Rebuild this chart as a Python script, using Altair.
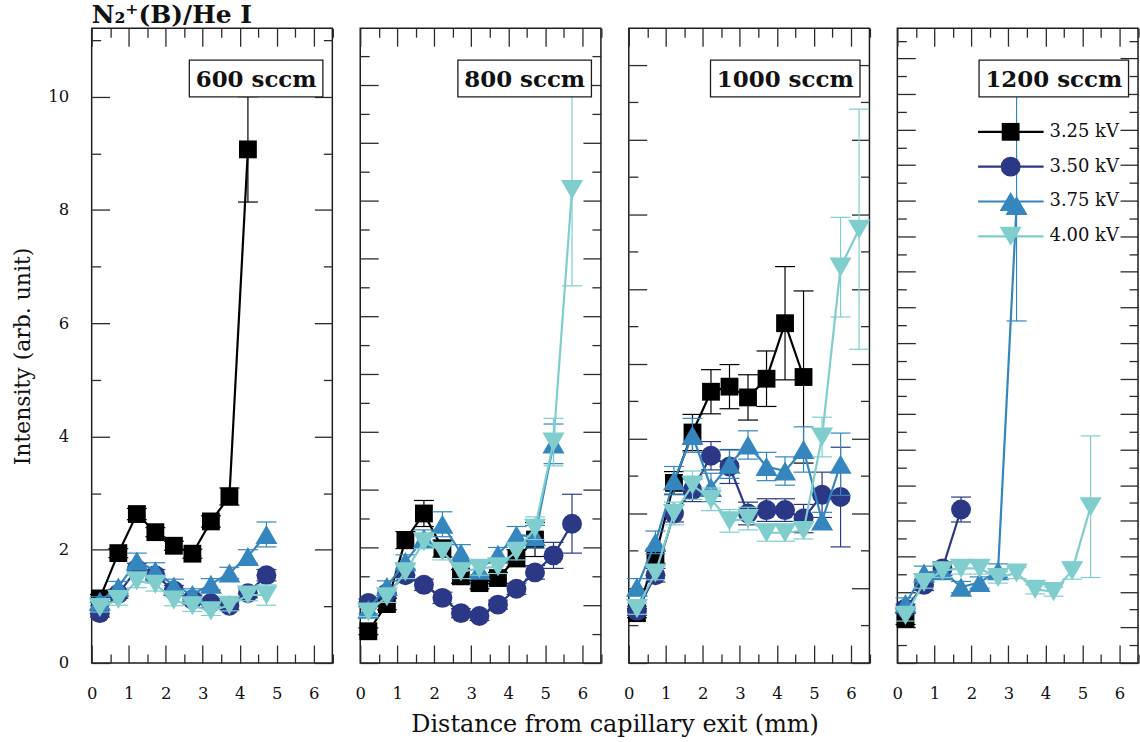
import altair as alt
import pandas as pd

# ---------------- data ----------------
X_MM = [0.22, 0.72, 1.22, 1.72, 2.22, 2.72, 3.22, 3.72, 4.22, 4.72, 5.22, 5.72, 6.22]
SERIES = ["3.25 kV", "3.50 kV", "3.75 kV", "4.00 kV"]
FLOWS = ["600 sccm", "800 sccm", "1000 sccm", "1200 sccm"]

# 600 sccm
f600_v325 = [1.14, 1.94, 2.63, 2.31, 2.07, 1.93, 2.50, 2.94, 9.07]
f600_e325 = [0.07, 0.08, 0.10, 0.08, 0.08, 0.08, 0.10, 0.15, 0.93]
f600_v350 = [0.88, 1.22, 1.66, 1.55, 1.28, 1.12, 1.06, 1.01, 1.23, 1.55]
f600_e350 = [0.07, 0.08, 0.10, 0.10, 0.09, 0.08, 0.07, 0.07, 0.08, 0.10]
f600_v375 = [1.09, 1.34, 1.80, 1.63, 1.36, 1.21, 1.39, 1.59, 1.88, 2.27]
f600_e375 = [0.08, 0.10, 0.14, 0.14, 0.12, 0.10, 0.10, 0.10, 0.12, 0.22]
f600_v400 = [0.98, 1.12, 1.45, 1.39, 1.11, 1.01, 0.92, 1.02, 1.20, 1.20]
f600_e400 = [0.08, 0.10, 0.12, 0.12, 0.10, 0.10, 0.08, 0.10, 0.10, 0.18]

# 800 sccm
f800_v325 = [0.56, 1.04, 2.17, 2.64, 2.02, 1.53, 1.41, 1.50, 1.85, 2.18]
f800_e325 = [0.06, 0.10, 0.15, 0.23, 0.15, 0.12, 0.10, 0.10, 0.15, 0.30]
f800_v350 = [1.06, 1.23, 1.55, 1.38, 1.15, 0.88, 0.83, 1.03, 1.31, 1.60, 1.90, 2.46]
f800_e350 = [0.07, 0.08, 0.10, 0.10, 0.10, 0.08, 0.08, 0.08, 0.10, 0.12, 0.23, 0.52]
f800_v375 = [0.95, 1.35, 1.79, 2.20, 2.45, 1.94, 1.64, 1.92, 2.26, 2.23, 3.87]
f800_e375 = [0.08, 0.10, 0.12, 0.15, 0.22, 0.15, 0.12, 0.12, 0.15, 0.20, 0.35]
f800_v400 = [0.90, 1.17, 1.61, 2.14, 1.97, 1.61, 1.67, 1.70, 1.97, 2.38, 3.90, 8.36]
f800_e400 = [0.08, 0.10, 0.12, 0.12, 0.15, 0.12, 0.12, 0.12, 0.15, 0.20, 0.42, 1.70]

# 1000 sccm
f1000_v325 = [0.88, 1.88, 3.18, 4.07, 4.79, 4.88, 4.69, 5.02, 6.00, 5.05]
f1000_e325 = [0.08, 0.12, 0.20, 0.32, 0.39, 0.39, 0.40, 0.49, 1.00, 1.52]
f1000_v350 = [0.92, 1.55, 2.64, 3.05, 3.66, 3.47, 2.64, 2.70, 2.70, 2.55, 2.97, 2.93]
f1000_e350 = [0.08, 0.12, 0.15, 0.20, 0.25, 0.30, 0.20, 0.20, 0.20, 0.25, 0.40, 0.88]
f1000_v375 = [1.34, 2.13, 3.22, 4.02, 3.10, 3.51, 3.85, 3.47, 3.39, 3.77, 2.51, 3.51]
f1000_e375 = [0.15, 0.20, 0.25, 0.30, 0.25, 0.25, 0.25, 0.25, 0.25, 0.40, 0.15, 0.55]
f1000_v400 = [0.96, 1.59, 2.64, 3.14, 2.89, 2.51, 2.55, 2.30, 2.30, 2.34, 3.99, 6.99, 7.66]
f1000_e400 = [0.10, 0.12, 0.20, 0.25, 0.20, 0.20, 0.20, 0.15, 0.15, 0.15, 0.35, 0.88, 2.12]

# 1200 sccm
f1200_v325 = [0.78]
f1200_e325 = [0.10]
f1200_v350 = [0.96, 1.38, 1.67, 2.71]
f1200_e350 = [0.08, 0.10, 0.12, 0.22]
f1200_v375 = [1.05, 1.59, 1.63, 1.34, 1.42, 1.63, 8.08]
f1200_e375 = [0.10, 0.12, 0.12, 0.10, 0.10, 0.12, 2.04]
f1200_v400 = [0.84, 1.42, 1.63, 1.67, 1.67, 1.51, 1.59, 1.30, 1.26, 1.63, 2.76]
f1200_e400 = [0.10, 0.10, 0.12, 0.10, 0.10, 0.10, 0.10, 0.08, 0.08, 0.15, 1.25]

PANEL_DATA = [
    [(f600_v325, f600_e325), (f600_v350, f600_e350), (f600_v375, f600_e375), (f600_v400, f600_e400)],
    [(f800_v325, f800_e325), (f800_v350, f800_e350), (f800_v375, f800_e375), (f800_v400, f800_e400)],
    [(f1000_v325, f1000_e325), (f1000_v350, f1000_e350), (f1000_v375, f1000_e375), (f1000_v400, f1000_e400)],
    [(f1200_v325, f1200_e325), (f1200_v350, f1200_e350), (f1200_v375, f1200_e375), (f1200_v400, f1200_e400)],
]

# ---------------- style ----------------
FONT = "DejaVu Serif"
COLORS = ["#000000", "#2a3886", "#3586be", "#7fcdcd"]
SHAPES = ["square", "circle", "triangle-up", "triangle-down"]
SIZES = [320, 400, 490, 490]
W = 241.5
H = 637
XMAX = 6.5
YMAX = 11.21
TICK_COLOR = "#2b2b2b"
LONG = 18
SHORT = 9
BOX_W = [134, 134, 150, 150]

# tick positions per panel (long / short)
X_LONG = [0, 1, 2, 3, 4, 5, 6]
X_SHORT = [0.5, 1.5, 2.5, 3.5, 4.5, 5.5, 6.5]
Y_TICKS = [
    ([0, 2, 4, 6, 8, 10], [1, 3, 5, 7, 9, 11]),
    ([round(1.02 * k, 3) for k in range(11)], [round(1.02 * k + 0.51, 3) for k in range(11)]),
    ([round(1.32 * k, 3) for k in range(9)], [round(1.32 * k + 0.66, 3) for k in range(8)]),
    ([round(0.628 * k, 3) for k in range(18)], [round(0.628 * k + 0.314, 3) for k in range(18)]),
]

xs = alt.Scale(domain=[0, XMAX], nice=False, zero=False)
ys = alt.Scale(domain=[0, YMAX], nice=False, zero=False)


def make_axis(orient, values, size, labels=False, **kw):
    return alt.Axis(
        orient=orient, values=values, tickSize=size, offset=-size, domain=False,
        grid=False, labels=labels, tickColor=TICK_COLOR, tickWidth=1.3,
        labelFont=FONT, labelFontSize=16.5, labelColor="#111", labelFlush=False,
        labelOverlap=False, **kw)


def build_panel(idx):
    rows = []
    for s, (vals, errs) in enumerate(PANEL_DATA[idx]):
        for i, (v, e) in enumerate(zip(vals, errs)):
            rows.append({"series": SERIES[s], "x": X_MM[i], "y": v, "lo": v - e, "hi": v + e})
    df = pd.DataFrame(rows)
    base = alt.Chart(df)

    def ex(f="x"):
        return alt.X(f, type="quantitative", scale=xs, axis=None)

    def ey(f="y"):
        return alt.Y(f, type="quantitative", scale=ys, axis=None)

    layers = []
    for s, name in enumerate(SERIES):
        d = base.transform_filter(alt.datum.series == name)
        col = COLORS[s]
        layers.append(d.mark_rule(color=col, strokeWidth=1.2).encode(x=ex(), y=ey("lo"), y2="hi"))
        for f in ("lo", "hi"):
            layers.append(d.mark_rule(color=col, strokeWidth=1.2, xOffset=-10, x2Offset=10)
                          .encode(x=ex(), x2="x", y=ey(f)))
        layers.append(d.mark_line(color=col, strokeWidth=2.2).encode(x=ex(), y=ey()))
        layers.append(d.mark_point(shape=SHAPES[s], filled=True, size=SIZES[s], color=col,
                                   opacity=1, strokeWidth=0).encode(x=ex(), y=ey()))

    ylong, yshort = Y_TICKS[idx]
    if idx == 0:
        yl = make_axis("left", ylong, LONG, labels=True, format="d", labelPadding=23,
                       title="Intensity (arb. unit)", titleFont=FONT, titleFontSize=22,
                       titleFontWeight="normal", titleColor="#111", titleX=-87, titleY=329,
                       titleAngle=270, titleAlign="center", titleBaseline="middle")
    else:
        yl = make_axis("left", ylong, LONG, title=None)
    if idx == 1:
        xl = make_axis("bottom", X_LONG, LONG, labels=True, labelPadding=23,
                       title="Distance from capillary exit (mm)", titleFont=FONT,
                       titleFontSize=24, titleFontWeight="normal", titleColor="#111",
                       titleX=W + 13.75, titleY=80, titleAlign="center",
                       titleBaseline="middle", titleAngle=0)
    else:
        xl = make_axis("bottom", X_LONG, LONG, labels=True, labelPadding=23, title=None)
    carriers = [
        (xl, yl),
        (make_axis("bottom", X_SHORT, SHORT, title=None), make_axis("left", yshort, SHORT, title=None)),
        (make_axis("top", X_LONG, LONG, title=None), make_axis("right", ylong, LONG, title=None)),
        (make_axis("top", X_SHORT, SHORT, title=None), make_axis("right", yshort, SHORT, title=None)),
    ]
    for xa, ya in carriers:
        layers.append(base.mark_point(opacity=0).encode(
            x=alt.X("x", type="quantitative", scale=xs, axis=xa),
            y=alt.Y("y", type="quantitative", scale=ys, axis=ya)))

    # flow-rate label box
    lab = alt.Chart(pd.DataFrame({"flow": [FLOWS[idx]]}))
    bw = BOX_W[idx]
    layers.append(lab.mark_rect(fill="white", stroke="#1e1e1e", strokeWidth=1.3).encode(
        x=alt.value(W - 9.5 - bw), x2=alt.value(W - 9.5), y=alt.value(32), y2=alt.value(69)))
    layers.append(lab.mark_text(font=FONT, fontSize=23, fontWeight="bold", color="#111",
                                align="center", baseline="middle").encode(
        x=alt.value(W - 9.5 - bw / 2), y=alt.value(51.5), text="flow:N"))

    # legend (last panel)
    if idx == 3:
        leg = pd.DataFrame({"series": SERIES, "row": list(range(len(SERIES)))})
        lg = alt.Chart(leg).transform_calculate(
            ly="9.38 - 0.615 * datum.row", lx1="2.18", lx2="3.95", mx="3.06", tx="4.11")
        for s, name in enumerate(SERIES):
            d = lg.transform_filter(alt.datum.series == name)
            col = COLORS[s]
            layers.append(d.mark_rule(color=col, strokeWidth=2.2).encode(
                x=ex("lx1"), x2="lx2", y=ey("ly")))
            layers.append(d.mark_point(shape=SHAPES[s], filled=True, size=SIZES[s], color=col,
                                       opacity=1, strokeWidth=0).encode(x=ex("mx"), y=ey("ly")))
            layers.append(d.mark_text(font=FONT, fontSize=18, color="#111", align="left",
                                      baseline="middle").encode(x=ex("tx"), y=ey("ly"), text="series:N"))

    ch = alt.layer(*layers).resolve_axis(x="independent", y="independent").properties(width=W, height=H)
    if idx == 0:
        ch = ch.properties(title=alt.TitleParams(
            "N₂⁺(B)/He I", anchor="start", frame="group", font=FONT, fontSize=25,
            fontWeight="bold", color="#111", offset=0))
    return ch


panels = [build_panel(i) for i in range(4)]

chart = alt.hconcat(*panels, spacing=27.5, bounds="flush").properties(
    padding={"left": 11, "top": 0, "right": 0, "bottom": 4}
).configure_view(stroke="#1e1e1e", strokeWidth=1.5)

chart.save("out.html", embed_options={"renderer": "svg", "actions": False})
